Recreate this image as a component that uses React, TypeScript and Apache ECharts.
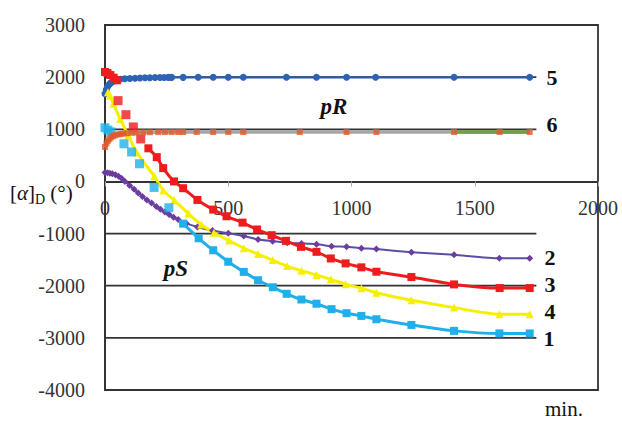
import React, { useEffect, useRef } from "react";
import * as echarts from "echarts";

const SERIF = "Liberation Serif, Times New Roman, serif";

const xMin = 0;
const xMax = 2000;
const xStep = 500;
const yMin = -4000;
const yMax = 3000;
const yStep = 1000;

// plot box inside the 622x421 canvas
const gridLeft = 105;
const gridRight = 24;
const gridTop = 25;
const gridBottom = 31;
const plotHeight = 421 - gridTop - gridBottom;

// horizontal reference lines inside the plot (they stop at x = 1750)
const gridLevels = [2000, 1000, -1000, -2000, -3000];
const gridEndX = 1750;

// series 1 (light blue squares)
const s1Loose = [[0, 1030], [12, 985], [24, 950], [77, 722], [108, 565], [140, 339], [199, -115], [259, -505]];
const s1Main = [[317, -810], [380, -1090], [439, -1320], [500, -1540], [563, -1735], [621, -1895], [681, -2030], [737, -2155], [797, -2265], [858, -2345], [919, -2450], [980, -2527], [1040, -2579], [1101, -2643], [1243, -2752], [1416, -2866], [1600, -2915], [1723, -2915]];

// series 2 (purple diamonds)
const s2 = [[0, 170], [10, 165], [20, 158], [30, 148], [42, 130], [55, 100], [68, 55], [81, 0], [100, -80], [118, -150], [135, -220], [152, -290], [170, -355], [189, -414], [208, -480], [225, -535], [243, -586], [260, -635], [278, -685], [297, -731], [330, -805], [375, -873], [436, -942], [500, -993], [563, -1045], [621, -1114], [680, -1146], [739, -1178], [797, -1190], [858, -1203], [919, -1241], [980, -1254], [1040, -1280], [1101, -1298], [1243, -1357], [1416, -1408], [1600, -1472], [1723, -1472]];

// series 3 (red squares)
const s3Head = [[0, 2100], [10, 2080], [22, 2040], [35, 1990], [48, 1940]];
const s3Loose = [[53, 1550], [85, 1280], [115, 1045], [145, 815]];
const s3Main = [[176, 635], [210, 466], [236, 255], [280, 0], [317, -130], [375, -355], [439, -540], [493, -668], [558, -790], [617, -922], [676, -1031], [734, -1140], [795, -1255], [858, -1350], [916, -1477], [976, -1572], [1040, -1648], [1101, -1732], [1243, -1834], [1416, -1975], [1601, -2045], [1723, -2045]];

// series 4 (yellow triangles)
const s4 = [[12, 1710], [20, 1650], [34, 1490], [61, 1200], [95, 880], [128, 560], [200, 100], [236, -172], [281, -363], [338, -617], [390, -825], [442, -985], [503, -1135], [563, -1280], [621, -1394], [680, -1509], [739, -1624], [797, -1713], [858, -1795], [916, -1878], [976, -1973], [1040, -2049], [1101, -2134], [1243, -2280], [1416, -2420], [1600, -2548], [1723, -2548]];

// series 5 (blue circles)
const s5 = [[0, 1680], [5, 1760], [10, 1815], [16, 1855], [22, 1885], [30, 1910], [40, 1930], [50, 1945], [61, 1958], [80, 1968], [101, 1975], [122, 1980], [142, 1984], [162, 1987], [182, 1990], [203, 1992], [223, 1993], [240, 1994], [257, 1995], [270, 1995], [317, 1996], [378, 1997], [439, 1997], [500, 1997], [561, 1997], [736, 1997], [858, 1997], [980, 1997], [1098, 1997], [1416, 1997], [1723, 1997]];

// series 6 (orange squares on grey / green line)
const s6 = [[0, 660], [6, 730], [12, 780], [18, 815], [25, 845], [33, 870], [42, 888], [52, 900], [63, 910], [75, 918], [88, 925], [108, 932], [128, 937], [155, 941], [182, 944], [216, 946], [243, 947], [270, 948], [297, 948], [317, 948], [372, 948], [439, 948], [500, 948], [561, 948], [790, 948], [980, 948], [1101, 948], [1416, 948], [1601, 948], [1723, 948]];
const s6GreenFrom = 1416;

const curveLabels = [
  { text: "5", x: 552, y: 77 },
  { text: "6", x: 552, y: 124 },
  { text: "2", x: 550, y: 257 },
  { text: "3", x: 550, y: 284 },
  { text: "4", x: 550, y: 311 },
  { text: "1", x: 549, y: 338 },
];

export default function App() {
  const ref = useRef<HTMLDivElement>(null);
  useEffect(() => {
    if (!ref.current) return;
    const chart = echarts.init(ref.current, null, { renderer: "svg" });

    const lineSeries = (data: number[][], color: string, symbol: string, size: number, width: number, z = 3, extra: any = {}) => ({
      type: "line",
      data,
      symbol,
      symbolSize: size,
      showSymbol: true,
      smooth: 0.2,
      z,
      itemStyle: { color },
      lineStyle: { color, width },
      ...extra,
    });
    const looseSeries = (data: number[][], color: string, symbol: string, size: number, z = 3) => ({
      type: "scatter",
      data,
      symbol,
      symbolSize: size,
      z,
      itemStyle: { color },
    });

    const gridSeries = gridLevels.map((lv) => ({
      type: "line",
      data: [[xMin, lv], [gridEndX, lv]],
      symbol: "none",
      z: 1,
      silent: true,
      lineStyle: { color: "#333", width: 1.8 },
    }));

    // the x axis sits on y = 0
    const xAxisOffset = -(plotHeight * (0 - yMin)) / (yMax - yMin);

    chart.setOption({
      animation: false,
      grid: {
        left: gridLeft,
        right: gridRight,
        top: gridTop,
        bottom: gridBottom,
        show: true,
        borderColor: "#333",
        borderWidth: 1.8,
        backgroundColor: "transparent",
      },
      xAxis: {
        type: "value",
        position: "bottom",
        offset: xAxisOffset,
        min: xMin,
        max: xMax,
        interval: xStep,
        axisLine: { onZero: false, lineStyle: { color: "#333", width: 1.8 } },
        axisTick: { show: true, length: 5, lineStyle: { color: "#aaa" } },
        splitLine: { show: false },
        axisLabel: { color: "#333", fontFamily: SERIF, fontSize: 20, margin: 17, formatter: (v: number) => String(v) },
      },
      yAxis: {
        type: "value",
        min: yMin,
        max: yMax,
        interval: yStep,
        axisLine: { show: true, onZero: false, lineStyle: { color: "#333", width: 1.8 } },
        axisTick: { show: false },
        splitLine: { show: false },
        axisLabel: { color: "#333", fontFamily: SERIF, fontSize: 20, margin: 20, formatter: (v: number) => String(v) },
      },
      series: [
        ...gridSeries,
        // series 6
        lineSeries(s6, "#a6a6a6", "none", 0, 3.5, 2),
        lineSeries(s6.filter((p) => p[0] >= s6GreenFrom), "#6fa044", "none", 0, 3.5, 2),
        looseSeries(s6, "#e2592a", "rect", 6, 4),
        // series 5
        lineSeries(s5, "#2a5aa8", "circle", 7, 2.2, 3, { itemStyle: { color: "#2e63b3" } }),
        // series 2
        lineSeries(s2, "#5a4ea6", "diamond", 7, 2, 3, { itemStyle: { color: "#6a3d9f" } }),
        // series 4
        lineSeries(s4, "#f5f000", "triangle", 8, 3, 3),
        // series 3
        lineSeries(s3Head, "#ee1c1c", "rect", 8, 3, 3),
        looseSeries(s3Loose, "#ee1c1c", "rect", 9, 3),
        lineSeries(s3Main, "#ee1c1c", "rect", 8, 3, 3),
        // series 1
        looseSeries(s1Loose, "#1fb0ea", "rect", 9, 3),
        lineSeries(s1Main, "#1fb0ea", "rect", 8, 3, 3),
      ],
      graphic: [
        {
          type: "text",
          x: 10,
          y: 193,
          z: 100,
          style: {
            text: "{a|[}{i|α}{a|]}{s|D}{a| (°)}",
            verticalAlign: "middle",
            fill: "#111",
            rich: {
              a: { fontFamily: SERIF, fontSize: 21, fill: "#111", lineHeight: 26, verticalAlign: "middle" },
              i: { fontFamily: SERIF, fontSize: 21, fontStyle: "italic", fill: "#111", lineHeight: 26, verticalAlign: "middle" },
              s: { fontFamily: SERIF, fontSize: 14, fill: "#111", lineHeight: 26, verticalAlign: "bottom" },
            },
          },
        },
        {
          type: "text",
          x: 545,
          y: 409,
          z: 100,
          style: { text: "min.", font: `21px ${SERIF}`, fill: "#111", verticalAlign: "middle" },
        },
        {
          type: "text",
          x: 334,
          y: 106,
          z: 100,
          style: { text: "pR", font: `italic bold 23px ${SERIF}`, fill: "#111", align: "center", verticalAlign: "middle" },
        },
        {
          type: "text",
          x: 176,
          y: 268,
          z: 100,
          style: { text: "pS", font: `italic bold 23px ${SERIF}`, fill: "#111", align: "center", verticalAlign: "middle" },
        },
        ...curveLabels.map((l) => ({
          type: "text",
          x: l.x,
          y: l.y,
          z: 100,
          style: { text: l.text, font: `bold 22px ${SERIF}`, fill: "#111", align: "center", verticalAlign: "middle" },
        })),
      ],
    });
    return () => chart.dispose();
  }, []);
  return (
    <div
      ref={ref}
      style={{ position: "absolute", left: 0, top: 0, width: 622, height: 421, background: "#fff" }}
    />
  );
}
